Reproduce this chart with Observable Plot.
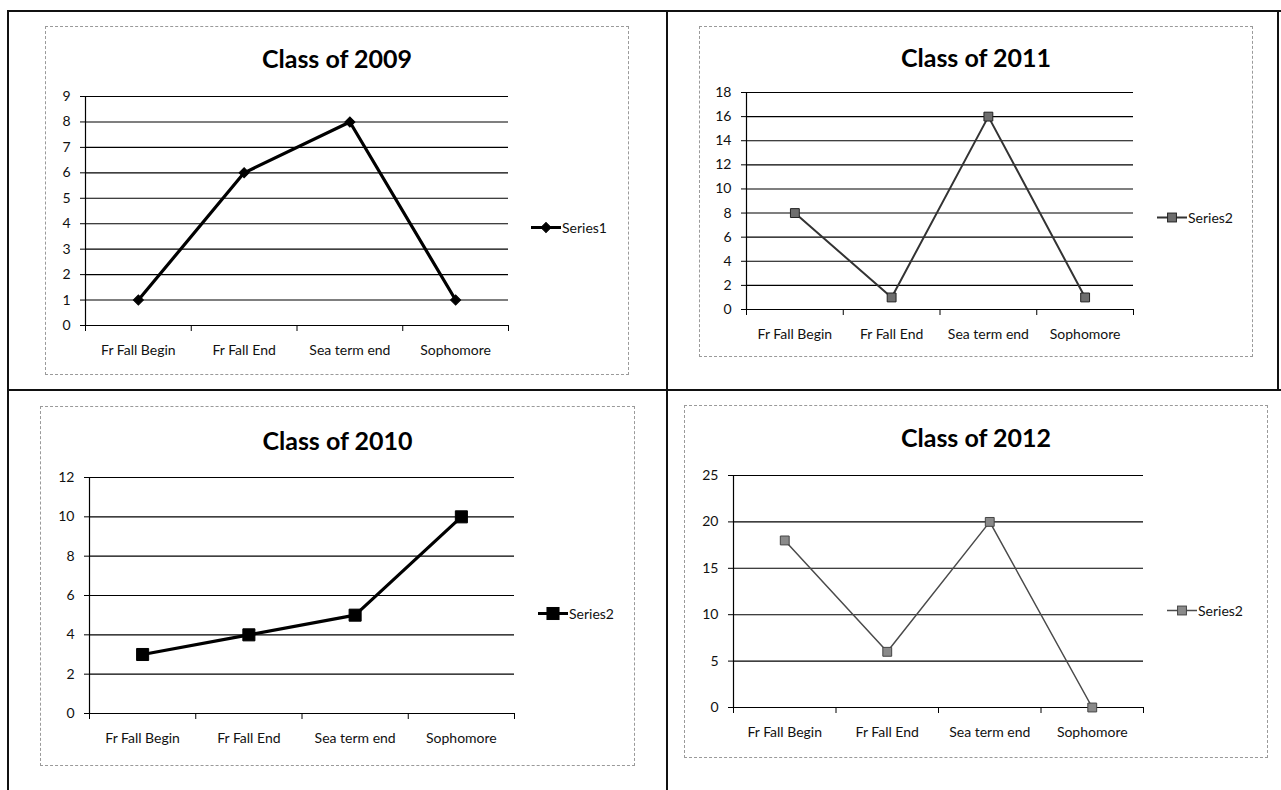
<!DOCTYPE html>
<html>
<head>
<meta charset="utf-8">
<script src="https://cdn.jsdelivr.net/npm/d3@7"></script>
<script src="https://cdn.jsdelivr.net/npm/@observablehq/plot@0.6"></script>
<style>
  html, body { margin: 0; padding: 0; background: #fff; }
  #page { position: relative; width: 1281px; height: 790px; overflow: hidden; background: #fff;
          font-family: Lato, "Open Sans", sans-serif; color: #000; }
  .rule { position: absolute; background: #111; }
  .frame { position: absolute; border: 1px dashed #9a9a9a; box-sizing: border-box; }
  .title { position: absolute; transform: translate(-50%, -50%); font-weight: 700; font-size: 25px;
           white-space: nowrap; color: #000; }
  .chart { position: absolute; }
  .legend { position: absolute; display: flex; align-items: center; font-size: 14px; white-space: nowrap;
            transform: translateY(-50%); color: #111; }
  .legend svg { margin-right: 1px; }
</style>
</head>
<body>
<div id="page"></div>
<script>
// Categories shared by all four charts
const categories = ["Fr Fall Begin", "Fr Fall End", "Sea term end", "Sophomore"];

// Counts per class
const class2009 = [1, 6, 8, 1];
const class2011 = [8, 1, 16, 1];
const class2010 = [3, 4, 5, 10];
const class2012 = [18, 6, 20, 0];

// Y axis tick labels of each chart
const ticks2009 = [0, 1, 2, 3, 4, 5, 6, 7, 8, 9];
const ticks2011 = [0, 2, 4, 6, 8, 10, 12, 14, 16, 18];
const ticks2010 = [0, 2, 4, 6, 8, 10, 12];
const ticks2012 = [0, 5, 10, 15, 20, 25];

const titles = ["Class of 2009", "Class of 2011", "Class of 2010", "Class of 2012"];
const seriesNames = ["Series1", "Series2", "Series2", "Series2"];

// Layout and look of each panel
const panels = [
  { title: titles[0], values: class2009, ticks: ticks2009, series: seriesNames[0],
    frame: [45, 26, 629, 375], plot: [85, 508, 96, 325], legend: [531, 227], titleY: 58,
    stroke: "#000", strokeWidth: 3.2, symbol: "square", rotate: 45, r: 4, fill: "#000", dotStroke: "#000" },
  { title: titles[1], values: class2011, ticks: ticks2011, series: seriesNames[1],
    frame: [699, 26, 1253, 357], plot: [746, 1133, 92, 309], legend: [1157, 217], titleY: 57,
    stroke: "#333", strokeWidth: 2, symbol: "square", rotate: 0, r: 5, fill: "#6e6e6e", dotStroke: "#222" },
  { title: titles[2], values: class2010, ticks: ticks2010, series: seriesNames[2],
    frame: [40, 406, 635, 766], plot: [89, 514, 477, 713], legend: [538, 613], titleY: 440,
    stroke: "#000", strokeWidth: 3.2, symbol: "square", rotate: 0, r: 6.8, fill: "#000", dotStroke: "#000" },
  { title: titles[3], values: class2012, ticks: ticks2012, series: seriesNames[3],
    frame: [684, 405, 1268, 758], plot: [733, 1143, 475, 707], legend: [1167, 610], titleY: 437,
    stroke: "#4a4a4a", strokeWidth: 1.5, symbol: "square", rotate: 0, r: 5, fill: "#8a8a8a", dotStroke: "#444" }
];

const page = document.getElementById("page");

function addRule(x, y, w, h) {
  const d = document.createElement("div");
  d.className = "rule";
  Object.assign(d.style, { left: x + "px", top: y + "px", width: w + "px", height: h + "px" });
  page.appendChild(d);
}

// Table grid around the charts
addRule(7, 10, 1274, 2);
addRule(7, 10, 2, 780);
addRule(666, 10, 2, 780);
addRule(7, 389, 1274, 2);
addRule(1277, 10, 2, 380);

const mL = 45, mR = 10, mT = 10, mB = 45;

for (const p of panels) {
  const [fl, ft, fr, fb] = p.frame;
  const frame = document.createElement("div");
  frame.className = "frame";
  Object.assign(frame.style, { left: fl + "px", top: ft + "px", width: (fr - fl) + "px", height: (fb - ft) + "px" });
  page.appendChild(frame);

  const [x0, x1, y0, y1] = p.plot;
  const title = document.createElement("div");
  title.className = "title";
  title.textContent = p.title;
  Object.assign(title.style, { left: ((fl + fr) / 2) + "px", top: p.titleY + "px" });
  page.appendChild(title);

  const data = categories.map((c, i) => ({ i, c, v: p.values[i] }));
  const n = categories.length;
  const yMax = p.ticks[p.ticks.length - 1];

  const chart = Plot.plot({
    width: (x1 - x0) + mL + mR,
    height: (y1 - y0) + mT + mB,
    marginLeft: mL, marginRight: mR, marginTop: mT, marginBottom: mB,
    style: { fontFamily: "Lato, 'Open Sans', sans-serif", fontSize: "14px", color: "#000", background: "transparent", overflow: "visible" },
    x: { type: "linear", domain: [0, n], axis: null },
    y: { domain: [0, yMax], axis: null },
    marks: [
      Plot.ruleY(p.ticks, { stroke: "#000", strokeWidth: 1.1 }),
      Plot.ruleX([0], { stroke: "#000", strokeWidth: 1.2 }),
      Plot.axisY(p.ticks, { tickSize: 5, tickPadding: 10, stroke: "#000", fill: "#111", fontSize: 14, label: null }),
      Plot.axisX(d3.range(n + 1), { tickSize: 6, tickFormat: () => "", stroke: "#000", label: null }),
      Plot.axisX(data.map(d => d.i + 0.5), { tickSize: 0, tickPadding: 20, tickFormat: t => categories[Math.floor(t)], fill: "#111", fontSize: 14, label: null }),
      Plot.line(data, { x: d => d.i + 0.5, y: "v", stroke: p.stroke, strokeWidth: p.strokeWidth }),
      Plot.dot(data, { x: d => d.i + 0.5, y: "v", symbol: p.symbol, rotate: p.rotate, r: p.r,
                       fill: p.fill, stroke: p.dotStroke, strokeWidth: 1 })
    ]
  });
  chart.classList.add("chart");
  Object.assign(chart.style, { left: (x0 - mL) + "px", top: (y0 - mT) + "px" });
  page.appendChild(chart);

  // Legend entry: line swatch with marker, then series name
  const [lx, ly] = p.legend;
  const leg = document.createElement("div");
  leg.className = "legend";
  Object.assign(leg.style, { left: lx + "px", top: ly + "px" });
  const sw = d3.create("svg").attr("width", 30).attr("height", 14);
  sw.append("line").attr("x1", 0).attr("x2", 30).attr("y1", 7).attr("y2", 7)
    .attr("stroke", p.stroke).attr("stroke-width", p.strokeWidth);
  const side = Math.sqrt(Math.PI) * p.r;
  sw.append("rect").attr("x", 15 - side / 2).attr("y", 7 - side / 2).attr("width", side).attr("height", side)
    .attr("fill", p.fill).attr("stroke", p.dotStroke)
    .attr("transform", p.rotate ? `rotate(${p.rotate} 15 7)` : null);
  leg.appendChild(sw.node());
  const label = document.createElement("span");
  label.textContent = p.series;
  leg.appendChild(label);
  page.appendChild(leg);
}
</script>
</body>
</html>
